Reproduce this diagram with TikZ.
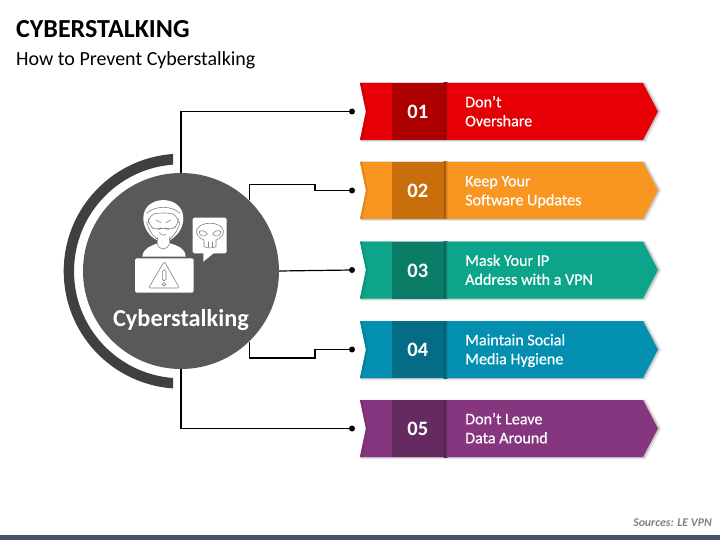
\documentclass[tikz,border=0pt]{standalone}
\usepackage{fontspec}
\setmainfont{Carlito}
\newfontfamily\ribfont[FakeBold=0.6]{Carlito}
\definecolor{hubgray}{HTML}{595959}
\definecolor{arcgray}{HTML}{404040}
\definecolor{barblue}{HTML}{44546A}
\definecolor{cA}{HTML}{E60005}\definecolor{dA}{HTML}{AD0000}
\definecolor{cB}{HTML}{F99621}\definecolor{dB}{HTML}{C86E0A}
\definecolor{cC}{HTML}{0CA58A}\definecolor{dC}{HTML}{0A7C68}
\definecolor{cD}{HTML}{0390B0}\definecolor{dD}{HTML}{046D85}
\definecolor{cE}{HTML}{85367F}\definecolor{dE}{HTML}{652A60}
\tikzset{
  link/.style={draw=black,line width=1.2pt},
  enddot/.style={circle,fill=black,inner sep=0pt,minimum size=6pt},
  numbox/.style={minimum width=51.5pt,minimum height=57pt,inner sep=0pt},
  numtext/.style={inner sep=0pt,text=white,font=\fontsize{20.5}{22}\selectfont\bfseries},
  ribtext/.style={anchor=west,align=left,inner sep=0pt,text=white,font=\fontsize{16.1}{19}\selectfont\ribfont},
  iconline/.style={draw=hubgray!75!white,line width=0.6pt,line join=round,line cap=round},
}
\newcommand{\ribbonrow}[7]{% top, fill, dark, number, line1, line2, id
  \fill[gray!18] (361,#1-0.5) -- (646,#1-0.5) -- (661.5,#1+28.5) -- (646,#1+59) -- (361,#1+59) -- (368,#1+29) -- cycle;
  \fill[gray!45] (361,#1) -- (644.5,#1) -- (659.7,#1+28.5) -- (644.5,#1+58) -- (361,#1+58) -- (367,#1+29) -- cycle;
  \fill[#2] (360,#1) -- (643,#1) -- (658,#1+28.5) -- (643,#1+57) -- (360,#1+57) -- (366,#1+28.5) -- cycle;
  \fill[#3!35!#2] (360,#1) -- (366,#1+28.5) -- (360,#1+57) -- (362.5,#1+57) -- (368,#1+28.5) -- (362.5,#1) -- cycle;
  \shade[left color=#3!70!black,right color=#2] (443.5,#1) rectangle (447.5,#1+57);
  \node[numbox,fill=#3] (box#7) at (417.75,#1+28.5) {};
  \node[numtext] (num#7) at (417.75,#1+29) {#4};
  \node[ribtext] (txt#7) at (465,#1+30) {\strut #5\\\strut #6};
  \node[enddot] (dot#7) at (352,#1+28.5) {};
}
\begin{document}
\begin{tikzpicture}[x=1pt,y=-1pt]
\useasboundingbox (0,0) rectangle (720,540);
\fill[barblue] (0,535) rectangle (720,540);
\node[anchor=west,inner sep=0pt,font=\fontsize{26}{30}\selectfont\bfseries] (title) at (16,29) {CYBERSTALKING};
\node[anchor=west,inner sep=0pt,font=\fontsize{20}{24}\selectfont] (subtitle) at (16,60) {How to Prevent Cyberstalking};
\node[anchor=east,inner sep=0pt,text=gray,font=\fontsize{11.8}{14}\selectfont\bfseries\itshape] (source) at (712,522.5) {Sources: LE VPN};

\ribbonrow{83}{cA}{dA}{01}{Don’t}{Overshare}{a}
\ribbonrow{162}{cB}{dB}{02}{Keep Your}{Software Updates}{b}
\ribbonrow{241.5}{cC}{dC}{03}{Mask Your IP}{Address with a VPN}{c}
\ribbonrow{321}{cD}{dD}{04}{Maintain Social}{Media Hygiene}{d}
\ribbonrow{400}{cE}{dE}{05}{Don’t Leave}{Data Around}{e}

\node[circle,fill=hubgray,minimum size=196pt,inner sep=0pt] (hub) at (181,271) {};
\coordinate (b1) at (315,184.5);
\coordinate (b2) at (315,190.5);
\coordinate (d1) at (315,358);
\coordinate (d2) at (315,349.5);
\draw[link] (hub.north) |- (dota);
\draw[link] (hub.46) |- (b1) -- (b2) -- (dotb);
\draw[link] (hub.east) -- (dotc);
\draw[link] (hub.-46) |- (d1) -- (d2) -- (dotd);
\draw[link] (hub.south) |- (dote);

% outer arc
\fill[arcgray] (173,154) arc[start angle=-94,end angle=-266,radius=117.5] -- (173,378)
  arc[start angle=-265.7,end angle=-94.3,radius=107] -- cycle;

\node[inner sep=0pt,text=white,font=\fontsize{24.3}{27}\selectfont\bfseries] (hublabel) at (181,320.5) {Cyberstalking};

% icon, in a 3x grid
\begin{scope}[shift={(120,190)},x=0.3333pt,y=-0.3333pt]
% laptop
\fill[white,rounded corners=1.5pt] (45,205) rectangle (221,308);
\draw[iconline,rounded corners=2pt] (133,214) -- (178,294) -- (86,294) -- cycle;
\draw[iconline,rounded corners=1.5pt] (127,240) rectangle (138,272);
\draw[iconline] (132,283) circle[radius=1.8pt];
% shoulders
\fill[white] (67,200) .. controls (70,172) and (95,168) .. (112,160) -- (150,160) .. controls (172,168) and (195,172) .. (197,200) -- cycle;
% hood
\fill[white] (70,85) .. controls (70,12) and (190,12) .. (190,85) .. controls (190,115) and (170,140) .. (150,150) -- (110,150) .. controls (90,140) and (70,115) .. (70,85) -- cycle;
% neck
\fill[white] (110,145) rectangle (150,165);
\draw[iconline] (80,70) .. controls (105,46) and (155,46) .. (180,70);
% face outline inside hood
\draw[iconline] (80,95) .. controls (84,118) and (98,138) .. (112,148);
\draw[iconline] (180,95) .. controls (176,118) and (162,138) .. (148,148);
% mask / neck
\draw[iconline] (112,142) -- (112,162) .. controls (120,182) and (140,182) .. (148,162) -- (148,142);
% goggles
\draw[iconline,rounded corners=6pt] (85,80) .. controls (110,68) and (150,68) .. (175,80) -- (175,104) -- (152,122) -- (130,110) -- (108,122) -- (85,104) -- cycle;
\draw[iconline] (108,90) -- (122,98) (152,90) -- (138,98);
\draw[iconline] (118,128) .. controls (122,136) and (130,138) .. (138,134);
% speech bubble
\fill[white,rounded corners=1.5pt] (218,83) rectangle (320,190);
\fill[white] (250,185) -- (250,215) -- (287,185) -- cycle;
% skull
\draw[iconline] (252,170) -- (252,150) .. controls (218,138) and (222,100) .. (270,100)
  .. controls (318,100) and (322,138) .. (288,150) -- (288,170) .. controls (275,175) and (265,175) .. (252,170) -- cycle;
\draw[iconline] (238,125) .. controls (244,118) and (258,124) .. (262,132) .. controls (256,142) and (236,140) .. (238,125) -- cycle;
\draw[iconline] (302,125) .. controls (296,118) and (282,124) .. (278,132) .. controls (284,142) and (304,140) .. (302,125) -- cycle;
\draw[iconline] (264,172) -- (264,156) (276,172) -- (276,156);
\end{scope}
\end{tikzpicture}
\end{document}
